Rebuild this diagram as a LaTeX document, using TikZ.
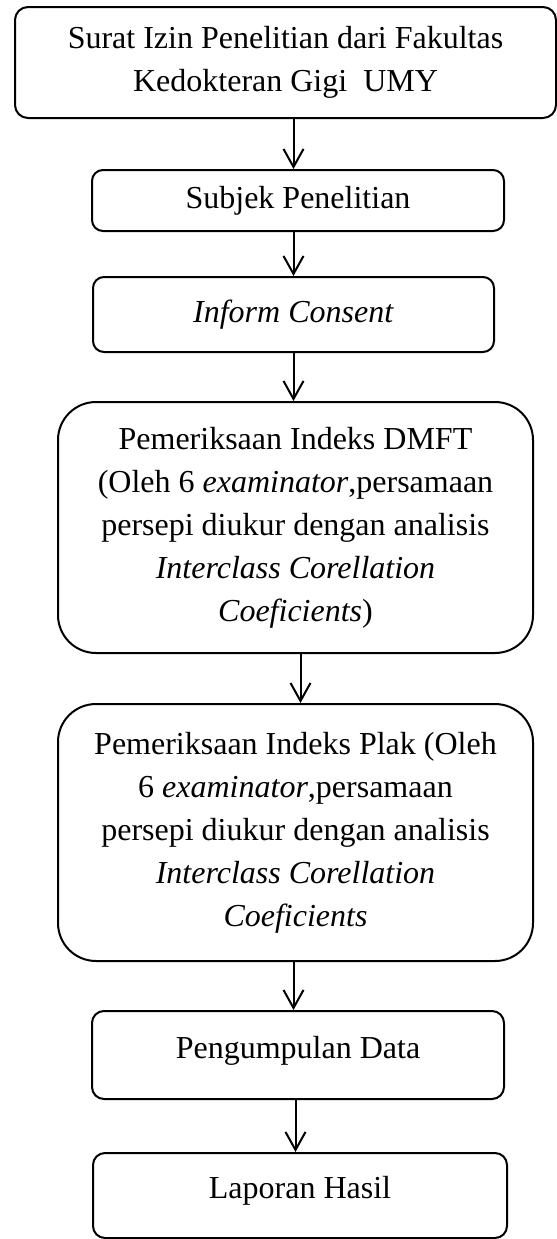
\documentclass[tikz,border=0pt]{standalone}
\usepackage{fontspec}
\setmainfont{Liberation Serif}
\usetikzlibrary{arrows.meta}

\begin{document}
\begin{tikzpicture}[x=0.5pt, y=-0.5pt, font=\fontsize{16}{21.5}\selectfont, every node/.style={align=center, inner sep=0pt}, langkah/.style={draw, line width=1pt, rounded corners=5.5pt}, langkahbesar/.style={langkah, rounded corners=19pt}, panah/.style={line width=1pt, -{Straight Barb[length=9pt,width=10pt,line width=1pt]}}]

\useasboundingbox (0,0) rectangle (557,1239);

\node[langkah, minimum width=270.5pt, minimum height=55.5pt, rounded corners=6.5pt] (izin) at (285.5,62.5) {Surat Izin Penelitian dari Fakultas\\Kedokteran Gigi~ UMY};
\node[langkah, minimum width=206pt, minimum height=30.5pt] (subjek) at (298,200.5) {Subjek Penelitian};
\node[langkah, minimum width=200.5pt, minimum height=37.5pt] (consent) at (293.5,314.5) {\textit{Inform Consent}};
\node[langkahbesar, minimum width=237.5pt, minimum height=125.5pt] (dmft) at (295.5,527.5) {Pemeriksaan Indeks DMFT\\(Oleh 6 \textit{examinator},persamaan\\persepi diukur dengan analisis\\\textit{Interclass Corellation}\\\textit{Coeficients})};
\node[langkahbesar, minimum width=237.5pt, minimum height=128.5pt] (plak) at (295.5,832.5) {Pemeriksaan Indeks Plak (Oleh\\6 \textit{examinator},persamaan\\persepi diukur dengan analisis\\\textit{Interclass Corellation}\\\textit{Coeficients}};
\node[langkah, minimum width=206pt, minimum height=44pt, rounded corners=6pt] (data) at (298,1055) {\raisebox{8pt}{Pengumpulan Data}};
\node[langkah, minimum width=207pt, minimum height=42.5pt, rounded corners=6pt] (hasil) at (300,1195.5) {\raisebox{8pt}{Laporan Hasil}};

% alur
\draw[panah] (izin.south -| consent.north) -- (subjek.north -| consent.north);
\draw[panah] (subjek.south -| consent.north) -- (consent.north);
\draw[panah] (consent.south) -- (consent.south |- dmft.north);
\draw[panah] (dmft.south) ++(5,0) coordinate (d1) -- (d1 |- plak.north);
\draw[panah] (plak.south -| consent.north) -- (data.north -| consent.north);
\draw[panah] (data.south -| dmft.south) -- (dmft.south |- hasil.north);
\end{tikzpicture}
\end{document}
